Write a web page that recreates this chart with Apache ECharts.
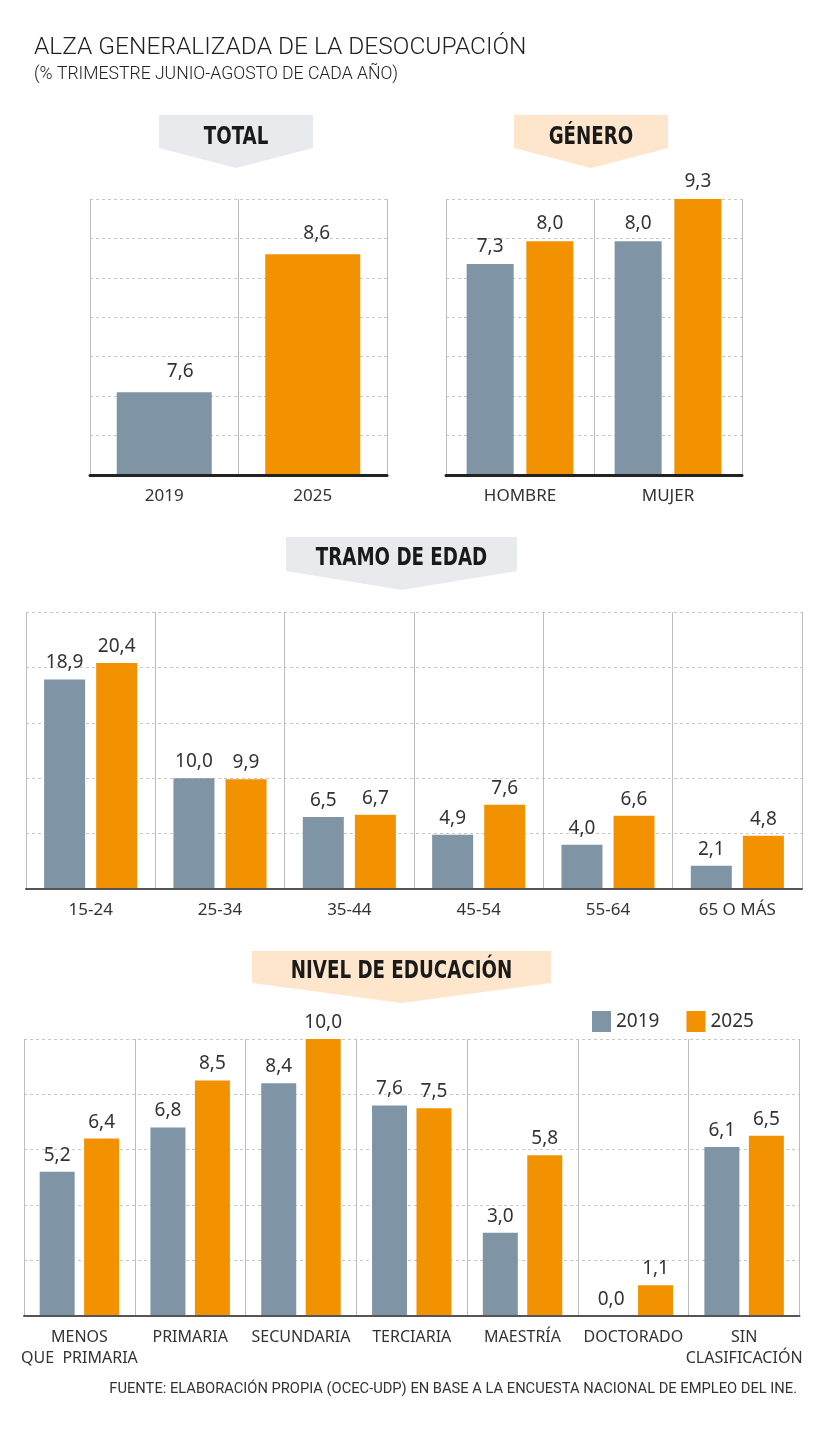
<!DOCTYPE html>
<html><head><meta charset="utf-8">
<script src="https://cdn.jsdelivr.net/npm/echarts@6.0.0/dist/echarts.min.js"></script>
<style>html,body{margin:0;padding:0;background:#fff}#c{width:833px;height:1440px}</style>
</head><body><div id="c"></div>
<script>
// ---- data ----
const seriesNames = ['2019', '2025'];
const totalCats = ['2019', '2025'];
const totalValues = [7.6, 8.6];
const genderCats = ['HOMBRE', 'MUJER'];
const gender2019 = [7.3, 8.0];
const gender2025 = [8.0, 9.3];
const ageCats = ['15-24', '25-34', '35-44', '45-54', '55-64', '65 O MÁS'];
const age2019 = [18.9, 10.0, 6.5, 4.9, 4.0, 2.1];
const age2025 = [20.4, 9.9, 6.7, 7.6, 6.6, 4.8];
const eduCats = ['MENOS\nQUE  PRIMARIA', 'PRIMARIA', 'SECUNDARIA', 'TERCIARIA', 'MAESTRÍA', 'DOCTORADO', 'SIN\nCLASIFICACIÓN'];
const edu2019 = [5.2, 6.8, 8.4, 7.6, 3.0, 0.0, 6.1];
const edu2025 = [6.4, 8.5, 10.0, 7.5, 5.8, 1.1, 6.5];

// ---- styles ----
const GRAY = '#7f95a5', ORANGE = '#f29200';
const TAB_GRAY = '#e8eaed', TAB_PEACH = '#fde6cc';
const VFONT = '"Noto Sans", sans-serif';
const fmt = p => p.value.toFixed(1).replace('.', ',');
const valLabel = (dist) => ({show: true, position: 'top', distance: dist, formatter: fmt,
  fontFamily: VFONT, fontSize: 19, color: '#333'});
const dashed = {show: true, lineStyle: {color: '#c8c8c8', type: [3, 3], width: 1}};

function xAx(gi, cats, baseColor, baseWidth, fs) {
  return {type: 'category', gridIndex: gi, data: cats,
    axisLine: {show: true, onZero: false, lineStyle: {color: baseColor, width: baseWidth}},
    axisTick: {show: false},
    splitLine: {show: true, lineStyle: {color: '#bdbdbd', width: 1}},
    axisLabel: {fontFamily: VFONT, fontSize: fs, color: '#333', margin: 11, lineHeight: 21, interval: 0},
    z: 5};
}
function yAx(gi, min, max, interval, grid) {
  return {type: 'value', gridIndex: gi, min: min, max: max, interval: interval,
    axisLine: {show: false}, axisTick: {show: false}, axisLabel: {show: false},
    splitLine: grid ? dashed : {show: false}};
}
function tab(x1, x2, top, side, tip, fill, text, ty) {
  const cx = (x1 + x2) / 2;
  return [
    {type: 'polygon', shape: {points: [[x1, top], [x2, top], [x2, side], [cx, tip], [x1, side]]},
      style: {fill: fill}},
    {type: 'text', x: cx, y: ty, scaleX: 0.845, style: {text: text, fill: '#1a1a1a', align: 'center', verticalAlign: 'middle',
      font: 'bold 24px "Liberation Sans Narrow", "DejaVu Sans Condensed", sans-serif'}}
  ];
}

const option = {
  animation: false,
  backgroundColor: '#fff',
  legend: {data: seriesNames, left: 592, top: 1011, itemWidth: 19, itemHeight: 21, itemGap: 27, padding: 0,
    icon: 'rect', textStyle: {fontFamily: VFONT, fontSize: 19, color: '#333'}},
  grid: [
    {left: 90, top: 199, width: 297, height: 276},
    {left: 446, top: 199, width: 296, height: 276},
    {left: 26, top: 612, width: 776, height: 277},
    {left: 24, top: 1039, width: 775.5, height: 276.7}
  ],
  xAxis: [
    xAx(0, totalCats, '#222', 3, 17),
    xAx(1, genderCats, '#222', 3, 17),
    xAx(2, ageCats, '#555', 2, 17),
    xAx(3, eduCats, '#555', 2, 16)
  ],
  yAxis: [
    yAx(0, 7, 9, 0.5, false),
    yAx(0, 0, 7, 1, true),
    yAx(1, 0.8, 9.3, 0.5, false),
    yAx(1, 0, 7, 1, true),
    yAx(2, 0, 25, 5, true),
    yAx(3, 0, 10, 2, true)
  ],
  series: [
    {type: 'bar', name: 'Total', xAxisIndex: 0, yAxisIndex: 0, barWidth: 95,
      data: totalValues.map((v, i) => ({value: v, itemStyle: {color: i === 0 ? GRAY : ORANGE},
        label: {offset: [i === 0 ? 16 : 4, 0]}})),
      label: valLabel(11)},
    {type: 'bar', name: seriesNames[0], xAxisIndex: 1, yAxisIndex: 2, barWidth: 47, barGap: '27%',
      itemStyle: {color: GRAY}, data: gender2019, label: valLabel(8)},
    {type: 'bar', name: seriesNames[1], xAxisIndex: 1, yAxisIndex: 2, barWidth: 47, barGap: '27%',
      itemStyle: {color: ORANGE}, data: gender2025, label: valLabel(8)},
    {type: 'bar', name: seriesNames[0], xAxisIndex: 2, yAxisIndex: 4, barWidth: 41, barGap: '27%',
      itemStyle: {color: GRAY}, data: age2019, label: valLabel(7)},
    {type: 'bar', name: seriesNames[1], xAxisIndex: 2, yAxisIndex: 4, barWidth: 41, barGap: '27%',
      itemStyle: {color: ORANGE}, data: age2025, label: valLabel(7)},
    {type: 'bar', name: seriesNames[0], xAxisIndex: 3, yAxisIndex: 5, barWidth: 35, barGap: '27%',
      itemStyle: {color: GRAY}, data: edu2019, label: valLabel(7)},
    {type: 'bar', name: seriesNames[1], xAxisIndex: 3, yAxisIndex: 5, barWidth: 35, barGap: '27%',
      itemStyle: {color: ORANGE}, data: edu2025, label: valLabel(7)}
  ],
  graphic: [
    {type: 'text', x: 34, y: 48, style: {text: 'ALZA GENERALIZADA DE LA DESOCUPACIÓN', fill: '#222',
      verticalAlign: 'middle', font: '300 24.5px Roboto, sans-serif'}},
    {type: 'text', x: 34, y: 75, style: {text: '(% TRIMESTRE JUNIO-AGOSTO DE CADA AÑO)', fill: '#222',
      verticalAlign: 'middle', font: '300 17.6px Roboto, sans-serif'}},
    ...tab(159, 313, 115, 148, 168, TAB_GRAY, 'TOTAL', 138),
    ...tab(514, 668, 115, 148, 168, TAB_PEACH, 'GÉNERO', 138),
    ...tab(286, 517, 537, 571, 590, TAB_GRAY, 'TRAMO DE EDAD', 559),
    ...tab(252, 551, 951, 983, 1003, TAB_PEACH, 'NIVEL DE EDUCACIÓN', 972),
    {type: 'text', x: 797, y: 1389, style: {text: 'FUENTE: ELABORACIÓN PROPIA (OCEC-UDP) EN BASE A LA ENCUESTA NACIONAL DE EMPLEO DEL INE.',
      fill: '#333', align: 'right', verticalAlign: 'middle', font: '14.7px Roboto, sans-serif'}}
  ]
};
const chart = echarts.init(document.getElementById('c'), null, {renderer: 'canvas'});
chart.setOption(option);
</script>
</body></html>
